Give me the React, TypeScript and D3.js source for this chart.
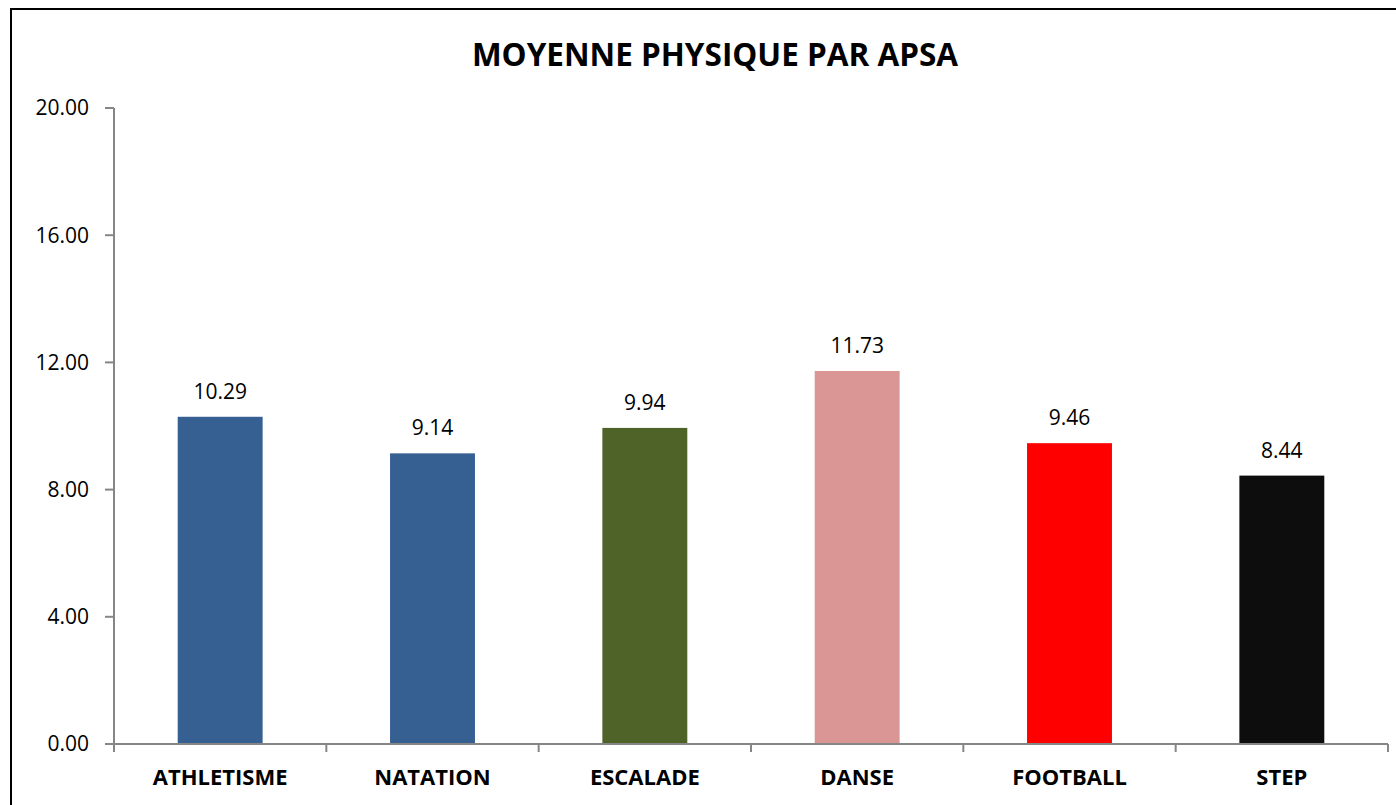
import React from "react";
import * as d3 from "d3";

const categories = ["ATHLETISME", "NATATION", "ESCALADE", "DANSE", "FOOTBALL", "STEP"];
const values = [10.29, 9.14, 9.94, 11.73, 9.46, 8.44];
const barColors = ["#376092", "#376092", "#4F6228", "#D99694", "#FF0000", "#0D0D0D"];
const yTicks = [0, 4, 8, 12, 16, 20];
const title = "MOYENNE PHYSIQUE PAR APSA";

const W = 1396;
const H = 805;
const margin = { top: 108, right: 8, bottom: 61, left: 114 };
const font = "Open Sans, Liberation Sans, sans-serif";

export default function App() {
  const x = d3
    .scaleBand<string>()
    .domain(categories)
    .range([margin.left, W - margin.right])
    .paddingInner(0.6)
    .paddingOuter(0.3);
  const y = d3.scaleLinear().domain([0, 20]).range([H - margin.bottom, margin.top]);
  const step = x.step();
  const x0 = margin.left;
  const x1 = W - margin.right;
  const y0 = y(0);
  const axisColor = "#868686";

  return (
    <svg
      width={W}
      height={H}
      style={{ position: "absolute", left: 0, top: 0, background: "#fff" }}
    >
      <rect x={11} y={9} width={W} height={H} fill="#fff" stroke="#000" strokeWidth={2} />
      <text
        x={715}
        y={66}
        textAnchor="middle"
        fontFamily={font}
        fontWeight="bold"
        fontSize={31.5}
        fill="#000"
      >
        {title}
      </text>

      {/* y axis */}
      <line x1={x0} x2={x0} y1={y(20)} y2={y0 + 8} stroke={axisColor} strokeWidth={2} />
      {yTicks.map((t) => (
        <g key={t}>
          <line x1={x0 - 9} x2={x0} y1={y(t)} y2={y(t)} stroke={axisColor} strokeWidth={2} />
          <text
            x={89}
            y={y(t)}
            dy="0.35em"
            textAnchor="end"
            fontFamily={font}
            fontSize={21}
            fill="#000"
          >
            {t.toFixed(2)}
          </text>
        </g>
      ))}

      {/* bars */}
      {categories.map((c, i) => (
        <g key={c}>
          <rect
            x={x(c)}
            y={y(values[i])}
            width={x.bandwidth()}
            height={y0 - y(values[i])}
            fill={barColors[i]}
          />
          <text
            x={(x(c) as number) + x.bandwidth() / 2}
            y={y(values[i]) - 18}
            textAnchor="middle"
            fontFamily={font}
            fontSize={21}
            fill="#000"
          >
            {values[i].toFixed(2)}
          </text>
          <text
            x={(x(c) as number) + x.bandwidth() / 2}
            y={785}
            textAnchor="middle"
            fontFamily={font}
            fontWeight="bold"
            fontSize={22}
            fill="#000"
          >
            {c}
          </text>
        </g>
      ))}

      {/* x axis */}
      <line x1={x0 - 9} x2={x1} y1={y0} y2={y0} stroke={axisColor} strokeWidth={2} />
      {d3.range(1, categories.length + 1).map((k) => (
        <line
          key={k}
          x1={x0 + k * step}
          x2={x0 + k * step}
          y1={y0}
          y2={y0 + 8}
          stroke={axisColor}
          strokeWidth={2}
        />
      ))}
    </svg>
  );
}
